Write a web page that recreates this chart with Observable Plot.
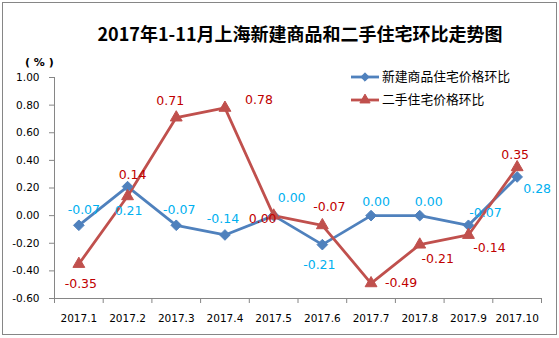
<!DOCTYPE html>
<html>
<head>
<meta charset="utf-8">
<script src="https://cdn.jsdelivr.net/npm/d3@7"></script>
<script src="https://cdn.jsdelivr.net/npm/@observablehq/plot@0.6"></script>
<style>
  body { margin: 0; background: #fff; }
  #wrap { position: relative; width: 559px; height: 338px; background: #fff; overflow: hidden; }
  #border { position: absolute; left: 2px; top: 2px; width: 553px; height: 331px; border: 1px solid #868686; pointer-events: none; }
  #title { position: absolute; left: 0; width: 600px; top: 21px; text-align: center; font: bold 18px "Noto Sans CJK SC", sans-serif; color: #000; line-height: 24px; white-space: nowrap; }
  #unit { position: absolute; left: 25px; top: 57px; font: bold 11px "DejaVu Sans", sans-serif; color: #000; line-height: 12px; white-space: pre; }
  #chart { position: absolute; left: 0; top: 0; }
  #legend { position: absolute; left: 0; top: 0; }
</style>
</head>
<body>
<div id="wrap">
  <div id="chart"></div>
  <div id="title">2017年1-11月上海新建商品和二手住宅环比走势图</div>
  <div id="unit">( % )</div>
  <svg id="legend" width="559" height="338"></svg>
  <div id="border"></div>
</div>
<script>
// ---- data ----
const months = ["2017.1","2017.2","2017.3","2017.4","2017.5","2017.6","2017.7","2017.8","2017.9","2017.10"];
const newHome = [-0.07, 0.21, -0.07, -0.14, 0.00, -0.21, 0.00, 0.00, -0.07, 0.28];
const secondHand = [-0.35, 0.14, 0.71, 0.78, 0.00, -0.07, -0.49, -0.21, -0.14, 0.35];
const yTicks = [-0.6, -0.4, -0.2, 0, 0.2, 0.4, 0.6, 0.8, 1.0];
const seriesNames = ["新建商品住宅价格环比", "二手住宅价格环比"];

// ---- layout (label offsets in px) ----
const blueOffsets = [[5,-15],[1,24],[3,-15],[-2,-16],[18,-18],[-3,20],[5,-14],[9,-14],[17,-12],[20,12]];
const redOffsets  = [[2,20],[5,-21],[-6,-17],[34,-8],[-11,3],[7,-18],[30,0],[18,14],[21,13],[-2,-12]];

const BLUE = "#4F81BD", RED = "#C0504D", BLUE_LBL = "#00B0F0", RED_LBL = "#C00000", AX = "#868686";

const blueRows = months.map((m, i) => ({x: i + 0.5, v: newHome[i], off: blueOffsets[i]}));
const redRows = months.map((m, i) => ({x: i + 0.5, v: secondHand[i], off: redOffsets[i]}));

const labelMarks = (rows, color) => rows.map(r =>
  Plot.text([r], {x: "x", y: "v", text: d => d.v.toFixed(2), dx: r.off[0], dy: r.off[1],
    fill: color, fontSize: 12.5, fontFamily: "DejaVu Sans"}));

const chart = Plot.plot({
  width: 559, height: 338,
  marginLeft: 54, marginRight: 18, marginTop: 77, marginBottom: 40,
  style: {fontFamily: "DejaVu Sans", fontSize: "10px", color: "#000", background: "transparent"},
  x: {domain: [0, 10], axis: null},
  y: {domain: [-0.6, 1.0], axis: null},
  marks: [
    Plot.axisY({ticks: yTicks, tickFormat: d => d.toFixed(2), tickSize: 5, tickPadding: 10, stroke: AX, label: null, fontSize: 10.5}),
    Plot.axisX({ticks: d3.range(11), tickSize: 5, tickFormat: () => "", stroke: AX, label: null}),
    Plot.axisX({ticks: months.map((m, i) => i + 0.5), tickSize: 0, tickPadding: 16, tickFormat: d => months[Math.round(d - 0.5)], label: null, fontSize: 10.5}),
    Plot.ruleX([0], {stroke: AX}),
    Plot.ruleY([-0.6], {stroke: AX}),
    Plot.line(blueRows, {x: "x", y: "v", stroke: BLUE, strokeWidth: 2.8}),
    Plot.line(redRows, {x: "x", y: "v", stroke: RED, strokeWidth: 2.8}),
    Plot.dot(blueRows, {x: "x", y: "v", symbol: "diamond2", r: 4.8, fill: BLUE, stroke: BLUE, strokeWidth: 1}),
    Plot.dot(redRows, {x: "x", y: "v", symbol: "triangle", r: 4.4, fill: RED, stroke: RED, strokeWidth: 1}),
    ...labelMarks(blueRows, BLUE_LBL),
    ...labelMarks(redRows, RED_LBL)
  ]
});
document.getElementById("chart").appendChild(chart);

// ---- legend ----
const lg = d3.select("#legend");
const items = [{name: seriesNames[0], color: BLUE, sym: d3.symbolDiamond2, y: 77}, {name: seriesNames[1], color: RED, sym: d3.symbolTriangle, y: 100}];
items.forEach(it => {
  lg.append("line").attr("x1", 351).attr("x2", 379).attr("y1", it.y).attr("y2", it.y).attr("stroke", it.color).attr("stroke-width", 2.8);
  lg.append("path").attr("d", d3.symbol(it.sym, 45)()).attr("transform", `translate(365,${it.y})`).attr("fill", it.color).attr("stroke", it.color);
  lg.append("text").attr("x", 382).attr("y", it.y).attr("dy", "0.35em").attr("font-family", "Noto Sans CJK SC").attr("font-size", 12.8).attr("fill", "#000").text(it.name);
});
</script>
</body>
</html>
